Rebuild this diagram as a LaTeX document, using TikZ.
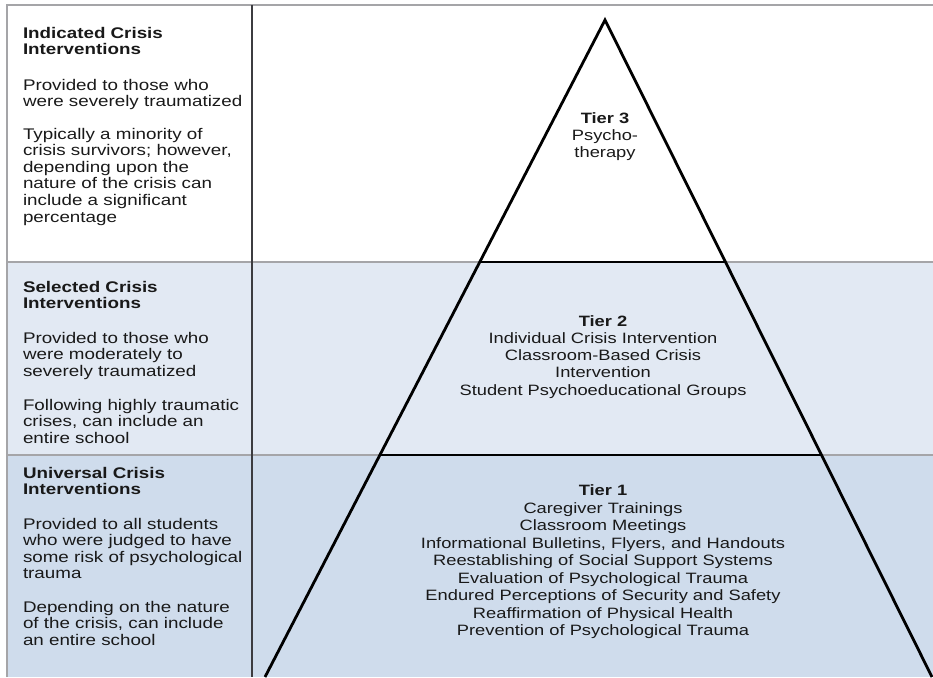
\documentclass[tikz,border=0pt]{standalone}
\usepackage{fontspec}
\setmainfont[FakeStretch=1.22]{Liberation Sans}
\definecolor{bandtwo}{RGB}{226,233,243}
\definecolor{bandthree}{RGB}{207,220,236}
\definecolor{sepgray}{RGB}{165,165,168}
\definecolor{divgray}{RGB}{60,60,64}
\definecolor{txt}{RGB}{25,25,25}
\begin{document}
\begin{tikzpicture}[x=1pt,y=-1pt,
  every node/.style={inner sep=0pt, outer sep=0pt, text=txt},
  lefttext/.style={anchor=north west, align=left, font=\fontsize{15.4}{16.6}\selectfont},
  lefthead/.style={lefttext, font=\fontsize{15.4}{16.6}\selectfont\bfseries},
  tiertext/.style={anchor=north, align=center, font=\fontsize{15}{17.3}\selectfont},
  tierlong/.style={anchor=north, align=center, font=\fontsize{15}{17.5}\selectfont},
  sepline/.style={draw=sepgray, line width=1.6pt},
  tri/.style={draw=black, line width=2.8pt, line join=miter},
  divline/.style={draw=divgray, line width=1.4pt}]
\useasboundingbox (0,0) rectangle (933,677);
% bands
\fill[bandtwo] (7,262) rectangle (933,455);
\fill[bandthree] (7,455) rectangle (933,677);
% frame and separators
\draw[sepline] (7,677) -- (7,5) -- (933,5);
\draw[sepline] (7,262) -- (933,262);
\draw[sepline] (7,455) -- (933,455);
\draw[divline] (252,5) -- (252,677);
% pyramid
\coordinate (apex) at (605,20);
\coordinate (bl) at (265,677);
\coordinate (br) at (932,677);
\coordinate (t2l) at (480.2,262);
\coordinate (t2r) at (725.5,262);
\coordinate (t1l) at (379.9,455);
\coordinate (t1r) at (821.6,455);
\draw[tri] (bl) -- (apex) -- (br);
\draw[tri] (t2l) -- (t2r);
\draw[tri] (t1l) -- (t1r);
% left column, band 1 (y = first baseline - 11.62)
\node[lefthead] (h3) at (23,26.4) {\strut Indicated Crisis\\Interventions};
\node[lefttext] (p3a) at (23,78.4) {\strut Provided to those who\\were severely traumatized};
\node[lefttext] (p3b) at (23,127.4) {\strut Typically a minority of\\crisis survivors; however,\\depending upon the\\nature of the crisis can\\include a significant\\percentage};
% band 2
\node[lefthead] (h2) at (23,280.4) {\strut Selected Crisis\\Interventions};
\node[lefttext] (p2a) at (23,331.4) {\strut Provided to those who\\were moderately to\\severely traumatized};
\node[lefttext] (p2b) at (23,398.4) {\strut Following highly traumatic\\crises, can include an\\entire school};
% band 3
\node[lefthead] (h1) at (23,466.4) {\strut Universal Crisis\\Interventions};
\node[lefttext] (p1a) at (23,517.4) {\strut Provided to all students\\who were judged to have\\some risk of psychological\\trauma};
\node[lefttext] (p1b) at (23,600.4) {\strut Depending on the nature\\of the crisis, can include\\an entire school};
% tiers (y = first baseline - strut height)
\node[tiertext] (tier3) at (605,110.9) {\strut\textbf{Tier 3}\\Psycho-\\therapy};
\node[tiertext] (tier2) at (603,313.9) {\strut\textbf{Tier 2}\\Individual Crisis Intervention\\Classroom-Based Crisis\\Intervention\\Student Psychoeducational Groups};
\node[tierlong] (tier1) at (603,483.5) {\strut\textbf{Tier 1}\\Caregiver Trainings\\Classroom Meetings\\Informational Bulletins, Flyers, and Handouts\\Reestablishing of Social Support Systems\\Evaluation of Psychological Trauma\\Endured Perceptions of Security and Safety\\Reaffirmation of Physical Health\\Prevention of Psychological Trauma};
\end{tikzpicture}
\end{document}
